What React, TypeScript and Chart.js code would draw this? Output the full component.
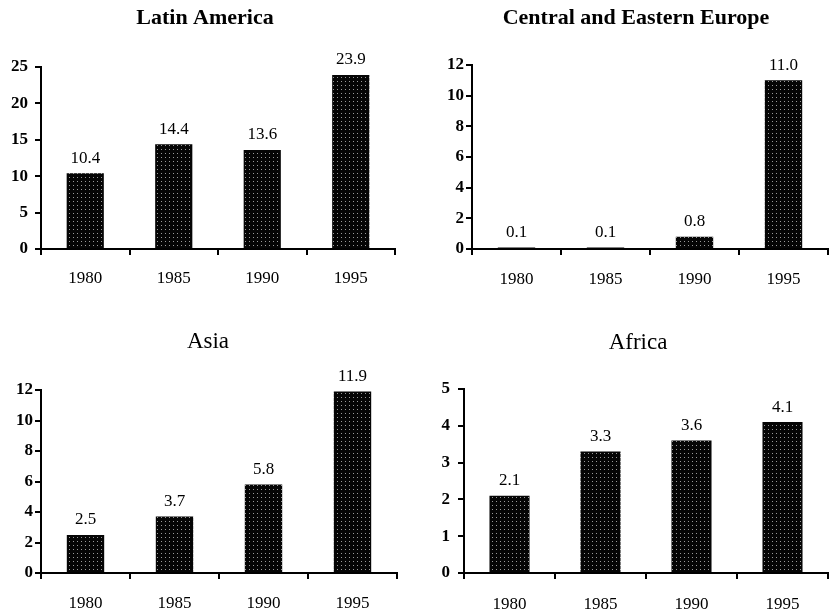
import React, { useEffect, useRef } from "react";
import { Chart, registerables } from "chart.js";

Chart.register(...registerables);

const years = ["1980", "1985", "1990", "1995"];
const latinAmerica = [10.4, 14.4, 13.6, 23.9];
const centralEasternEurope = [0.1, 0.1, 0.8, 11.0];
const asia = [2.5, 3.7, 5.8, 11.9];
const africa = [2.1, 3.3, 3.6, 4.1];
const titles = ["Latin America", "Central and Eastern Europe", "Asia", "Africa"];
const yMaxes = [25, 12, 12, 5];
const ySteps = [5, 2, 2, 1];
const seriesList = [latinAmerica, centralEasternEurope, asia, africa];

type PanelLayout = {
  left: number;
  top: number;
  width: number;
  height: number;
  padTop: number;
  padRight: number;
  yWidth: number;
  xHeight: number;
  titleX: number;
  titleY: number;
  titleFont: string;
  yPad: number;
  xPad: number;
  barFrac: number;
};

const layouts: PanelLayout[] = [
  { left: 0, top: 0, width: 414, height: 300, padTop: 67, padRight: 19, yWidth: 41, xHeight: 51, titleX: 205, titleY: 18, titleFont: "bold 22px 'Liberation Serif'", yPad: 7, xPad: 13, barFrac: 0.42 },
  { left: 415, top: 0, width: 414, height: 300, padTop: 65, padRight: 1, yWidth: 57, xHeight: 51, titleX: 221, titleY: 18, titleFont: "bold 22px 'Liberation Serif'", yPad: 2, xPad: 14, barFrac: 0.42 },
  { left: 0, top: 300, width: 414, height: 314, padTop: 90, padRight: 17, yWidth: 41, xHeight: 41, titleX: 208, titleY: 42, titleFont: "23px 'Liberation Serif'", yPad: 2, xPad: 14, barFrac: 0.42 },
  { left: 415, top: 300, width: 414, height: 314, padTop: 89, padRight: 1, yWidth: 49, xHeight: 41, titleX: 223, titleY: 43, titleFont: "23px 'Liberation Serif'", yPad: 8, xPad: 15, barFrac: 0.44 },
];

function makePattern(): CanvasPattern | string {
  const c = document.createElement("canvas");
  c.width = 4;
  c.height = 4;
  const ctx = c.getContext("2d");
  if (!ctx) return "#111";
  ctx.fillStyle = "#050505";
  ctx.fillRect(0, 0, 4, 4);
  ctx.fillStyle = "#9a9a9a";
  ctx.fillRect(1, 1, 1, 1);
  const main = document.createElement("canvas").getContext("2d");
  const p = main ? main.createPattern(c, "repeat") : null;
  return p || "#111";
}

function Panel({ idx }: { idx: number }) {
  const ref = useRef<HTMLCanvasElement | null>(null);
  const L = layouts[idx];
  useEffect(() => {
    if (!ref.current) return;
    const pattern = makePattern();
    const titlePlugin = {
      id: "panelTitle",
      afterDraw(chart: any) {
        const ctx = chart.ctx;
        ctx.save();
        ctx.font = L.titleFont;
        ctx.fillStyle = "#000";
        ctx.textAlign = "center";
        ctx.textBaseline = "middle";
        ctx.fillText(titles[idx], L.titleX, L.titleY);
        ctx.restore();
      },
    };
    const labelPlugin = {
      id: "barLabels",
      afterDatasetsDraw(chart: any) {
        const ctx = chart.ctx;
        const meta = chart.getDatasetMeta(0);
        const data = chart.data.datasets[0].data as number[];
        ctx.save();
        ctx.font = "17px 'Liberation Serif'";
        ctx.fillStyle = "#000";
        ctx.textAlign = "center";
        ctx.textBaseline = "middle";
        meta.data.forEach((el: any, i: number) => {
          ctx.fillText(data[i].toFixed(1), el.x, el.y - 15);
        });
        ctx.restore();
      },
    };
    const chart = new Chart(ref.current, {
      type: "bar",
      data: {
        labels: years,
        datasets: [
          {
            data: seriesList[idx],
            backgroundColor: pattern as any,
            borderWidth: 0,
            barPercentage: L.barFrac,
            categoryPercentage: 1,
          },
        ],
      },
      options: {
        animation: false,
        responsive: false,
        maintainAspectRatio: false,
        layout: { padding: { top: L.padTop, right: L.padRight, left: 0, bottom: 0 } },
        plugins: { legend: { display: false }, title: { display: false }, tooltip: { enabled: false } },
        scales: {
          x: {
            offset: true,
            afterFit: (s: any) => {
              s.height = L.xHeight;
            },
            grid: { offset: true, drawOnChartArea: false, drawTicks: true, tickLength: 6, color: "#000", lineWidth: 2 },
            border: { display: true, color: "#000", width: 2 },
            ticks: { color: "#000", padding: L.xPad, font: { family: "'Liberation Serif'", size: 17 }, maxRotation: 0 },
          },
          y: {
            min: 0,
            max: yMaxes[idx],
            afterFit: (s: any) => {
              s.width = L.yWidth;
            },
            grid: { drawOnChartArea: false, drawTicks: true, tickLength: 6, color: "#000", lineWidth: 2 },
            border: { display: true, color: "#000", width: 2 },
            ticks: { stepSize: ySteps[idx], color: "#000", padding: L.yPad, font: { family: "'Liberation Serif'", size: 17, weight: "bold" } },
          },
        },
      },
      plugins: [titlePlugin, labelPlugin],
    });
    return () => chart.destroy();
  }, [idx]);
  return (
    <canvas
      ref={ref}
      width={L.width}
      height={L.height}
      style={{ position: "absolute", left: L.left, top: L.top, width: L.width, height: L.height }}
    />
  );
}

export default function App() {
  return (
    <div style={{ position: "absolute", left: 0, top: 0, width: 829, height: 614, background: "#fff" }}>
      {[0, 1, 2, 3].map((i) => (
        <Panel key={i} idx={i} />
      ))}
    </div>
  );
}
